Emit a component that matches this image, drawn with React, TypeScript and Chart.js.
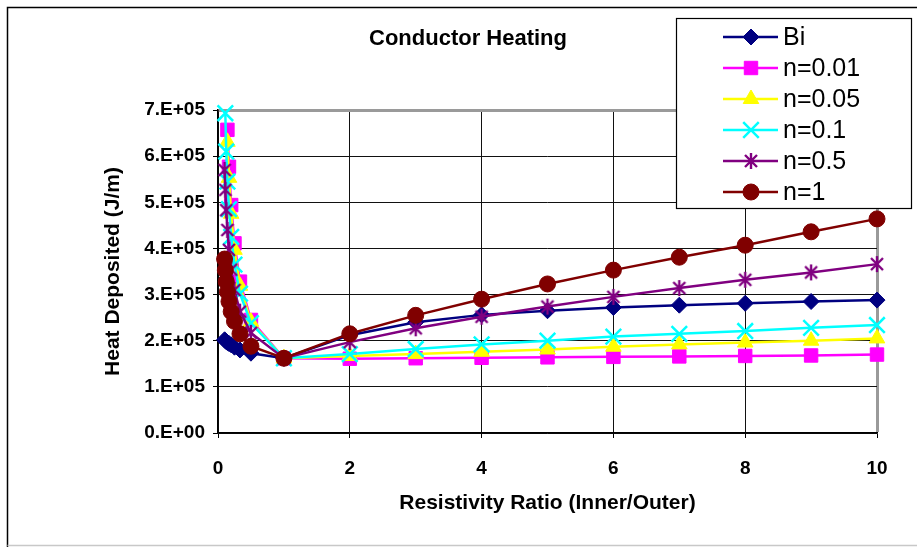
import React, { useEffect, useRef } from 'react';
import { Chart, registerables } from 'chart.js';
import { drawPoint } from 'chart.js/helpers';

Chart.register(...registerables);

// Resistivity ratio (inner / outer) at which each run was evaluated
const ratios = [0.1, 1 / 9, 0.125, 1 / 7, 1 / 6, 0.2, 0.25, 1 / 3, 0.5, 1, 2, 3, 4, 5, 6, 7, 8, 9, 10];

// Heat deposited in J/m; null where the value lies above the 7.E+05 ceiling of the axis
const heatBi = [202000, 200000, 198000, 196000, 194000, 191000, 186000, 180000, 173000, 162000, 212000, 240000, 256000, 265000, 272000, 277000, 281000, 285000, 288000];
const heatN001 = [null, null, null, 657000, 577000, 494000, 411000, 328000, 245000, 162000, 161000, 162000, 163000, 164000, 165000, 166000, 167000, 168000, 170000];
const heatN005 = [null, null, null, 631000, 553000, 475000, 397000, 319000, 241000, 162000, 167000, 171000, 176000, 181000, 187000, 192000, 196000, 200000, 205000];
const heatN01 = [null, 693000, 610000, 545000, 485000, 425000, 365000, 302000, 238000, 162000, 171000, 182000, 192000, 200000, 209000, 215000, 221000, 228000, 234000];
const heatN05 = [570000, 527000, 483000, 440000, 397000, 354000, 310000, 263000, 217000, 162000, 197000, 227000, 252000, 274000, 295000, 314000, 332000, 348000, 366000];
const heatN1 = [377000, 353000, 328000, 306000, 285000, 263000, 242000, 215000, 188000, 162000, 215000, 255000, 290000, 323000, 353000, 381000, 407000, 436000, 464000];

const seriesNames = ['Bi', 'n=0.01', 'n=0.05', 'n=0.1', 'n=0.5', 'n=1'];
const seriesValues = [heatBi, heatN001, heatN005, heatN01, heatN05, heatN1];

const yTickLabels = ['0.E+00', '1.E+05', '2.E+05', '3.E+05', '4.E+05', '5.E+05', '6.E+05', '7.E+05'];

const chartTitle = 'Conductor Heating';
const xAxisTitle = 'Resistivity Ratio (Inner/Outer)';
const yAxisTitle = 'Heat Deposited (J/m)';

const FONT = "'Liberation Sans', Arial, Helvetica, sans-serif";

// six-armed asterisk marker (vertical bar plus a diagonal cross)
function makeAsterisk(color: string): HTMLCanvasElement {
  const c = document.createElement('canvas');
  c.width = 18;
  c.height = 18;
  const g = c.getContext('2d')!;
  g.strokeStyle = color;
  g.lineWidth = 2.4;
  g.beginPath();
  g.moveTo(9, 1);
  g.lineTo(9, 17);
  g.moveTo(3, 3);
  g.lineTo(15, 15);
  g.moveTo(15, 3);
  g.lineTo(3, 15);
  g.stroke();
  return c;
}

export default function App() {
  const canvasRef = useRef<HTMLCanvasElement>(null);

  useEffect(() => {
    document.body.style.margin = '0';
    const canvas = canvasRef.current!;

    const styles: any[] = [
      { color: '#000080', pointStyle: 'rectRot', radius: 8, pointBorderWidth: 1 },
      { color: '#FF00FF', pointStyle: 'rect', radius: 9.5, pointBorderWidth: 1 },
      { color: '#FFFF00', pointStyle: 'triangle', radius: 9, pointBorderWidth: 1 },
      { color: '#00FFFF', pointStyle: 'crossRot', radius: 11, pointBorderWidth: 2.5 },
      { color: '#800080', pointStyle: makeAsterisk('#800080'), radius: 9, pointBorderWidth: 1 },
      { color: '#800000', pointStyle: 'circle', radius: 8, pointBorderWidth: 1 },
    ];

    const datasets = seriesNames.map((name, i) => {
      const s = styles[i];
      const values = seriesValues[i];
      return {
        label: name,
        data: ratios
          .map((x, k) => ({ x, y: values[k] }))
          .filter((p) => p.y !== null),
        borderColor: s.color,
        backgroundColor: s.color,
        borderWidth: 2.5,
        pointStyle: s.pointStyle,
        pointRadius: s.radius,
        pointHoverRadius: s.radius,
        pointBackgroundColor: s.color,
        pointBorderColor: s.color,
        pointBorderWidth: s.pointBorderWidth,
        tension: 0,
        clip: false as any,
        order: seriesNames.length - 1 - i,
      };
    });

    const decorations = {
      id: 'decorations',
      beforeDraw(chart: any) {
        const ctx = chart.ctx;
        ctx.save();
        ctx.fillStyle = '#ffffff';
        ctx.fillRect(0, 0, chart.width, chart.height);
        // outer frame
        ctx.lineWidth = 1.5;
        ctx.strokeStyle = '#000000';
        ctx.beginPath();
        ctx.moveTo(7.5, chart.height);
        ctx.lineTo(7.5, 7.5);
        ctx.lineTo(chart.width, 7.5);
        ctx.stroke();
        ctx.strokeStyle = '#c8c8c8';
        ctx.lineWidth = 1.5;
        ctx.beginPath();
        ctx.moveTo(7.5, 545.5);
        ctx.lineTo(chart.width, 545.5);
        ctx.stroke();
        ctx.restore();
      },
      afterDraw(chart: any) {
        const ctx = chart.ctx;
        ctx.save();
        // chart title
        ctx.fillStyle = '#000000';
        ctx.font = `bold 22px ${FONT}`;
        ctx.textAlign = 'center';
        ctx.textBaseline = 'middle';
        ctx.fillText(chartTitle, 468, 39);

        // legend box
        const bx = 676.5;
        const by = 18.5;
        const bw = 235;
        const bh = 190;
        ctx.fillStyle = '#ffffff';
        ctx.fillRect(bx, by, bw, bh);
        ctx.strokeStyle = '#000000';
        ctx.lineWidth = 1.2;
        ctx.strokeRect(bx, by, bw, bh);

        chart.data.datasets.forEach((ds: any, i: number) => {
          const y = 37 + i * 31;
          ctx.strokeStyle = ds.borderColor;
          ctx.lineWidth = 2.5;
          ctx.beginPath();
          ctx.moveTo(723, y);
          ctx.lineTo(778, y);
          ctx.stroke();
          ctx.fillStyle = ds.pointBackgroundColor;
          ctx.strokeStyle = ds.pointBorderColor;
          ctx.lineWidth = ds.pointBorderWidth;
          drawPoint(ctx, { pointStyle: ds.pointStyle, radius: ds.pointRadius, rotation: 0, borderWidth: ds.pointBorderWidth } as any, 751, y);
          ctx.fillStyle = '#000000';
          ctx.font = `25px ${FONT}`;
          ctx.textAlign = 'left';
          ctx.textBaseline = 'middle';
          ctx.fillText(ds.label, 783, y + 1);
        });
        ctx.restore();
      },
    };

    const tickFont = { family: FONT, size: 19, weight: 'bold' as const };
    const titleFont = { family: FONT, size: 21, weight: 'bold' as const, lineHeight: 1.2 };

    const chart = new Chart(canvas, {
      type: 'line',
      data: { datasets: datasets as any },
      plugins: [decorations],
      options: {
        responsive: false,
        animation: false,
        events: [],
        layout: { padding: { left: 0, right: 40, top: 110, bottom: 0 } },
        plugins: {
          legend: { display: false },
          title: { display: false },
          tooltip: { enabled: false },
        },
        scales: {
          x: {
            type: 'linear',
            min: 0,
            max: 10,
            ticks: {
              stepSize: 2,
              font: tickFont,
              color: '#000000',
              padding: 19,
              maxRotation: 0,
            },
            grid: {
              color: (c: any) => (c.tick && c.tick.value === 10 ? '#9a9a9a' : '#111111'),
              lineWidth: (c: any) => (c.tick && c.tick.value === 10 ? 3 : 1),
              tickColor: '#000000',
              tickWidth: 1,
              tickLength: 5,
            },
            border: { display: true, color: '#000000', width: 1.5 },
            title: {
              display: true,
              text: xAxisTitle,
              font: titleFont,
              color: '#000000',
              padding: 31,
            },
            afterFit: (scale: any) => {
              scale.height = 547 - 433;
            },
          },
          y: {
            type: 'linear',
            min: 0,
            max: 700000,
            ticks: {
              stepSize: 100000,
              font: tickFont,
              color: '#000000',
              padding: 8,
              callback: (v: any) => yTickLabels[Math.round(Number(v) / 100000)],
            },
            grid: {
              color: (c: any) => (c.tick && c.tick.value === 700000 ? '#9a9a9a' : '#111111'),
              lineWidth: (c: any) => (c.tick && c.tick.value === 700000 ? 3 : 1),
              tickColor: '#000000',
              tickWidth: 1,
              tickLength: 5,
            },
            border: { display: true, color: '#000000', width: 1.5 },
            title: {
              display: true,
              text: yAxisTitle,
              font: titleFont,
              color: '#000000',
              padding: 101,
            },
            afterFit: (scale: any) => {
              scale.width = 218;
            },
          },
        },
      },
    });

    return () => chart.destroy();
  }, []);

  return (
    <div style={{ width: 917, height: 547 }}>
      <canvas ref={canvasRef} width={917} height={547} style={{ display: 'block', width: 917, height: 547 }} />
    </div>
  );
}
